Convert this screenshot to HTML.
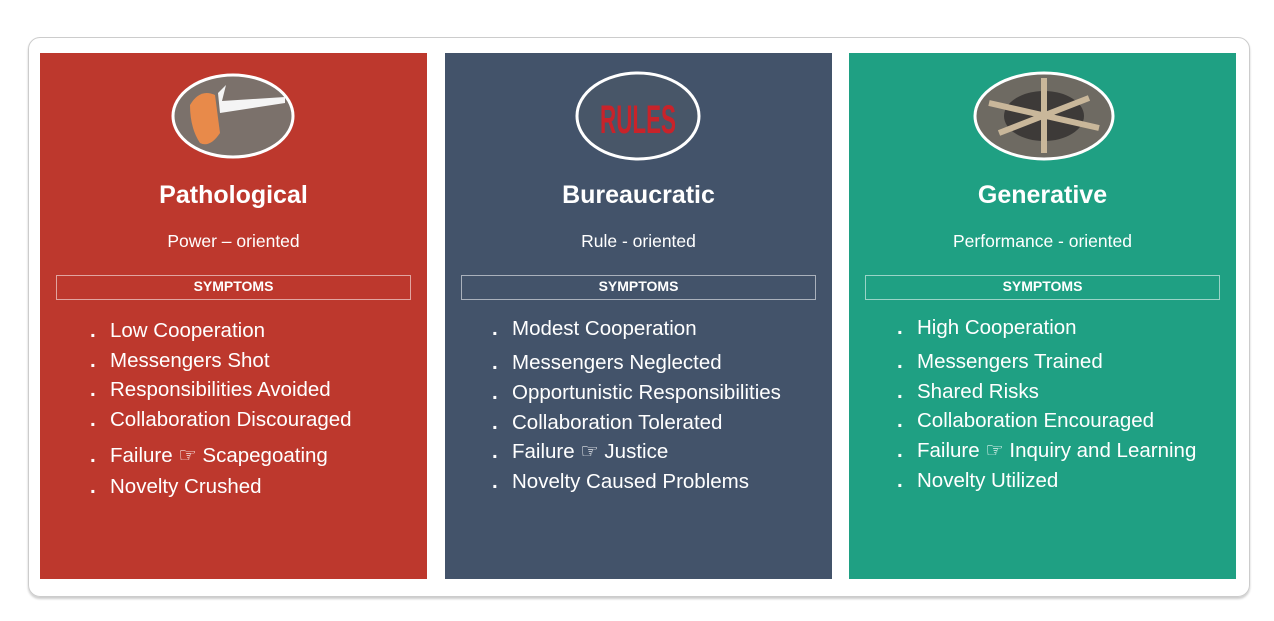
<!DOCTYPE html>
<html><head><style>
body{margin:0;width:1274px;height:621px;background:#fff;position:relative;overflow:hidden;font-family:"Liberation Sans","DejaVu Sans",sans-serif;color:#fff}
.outer{position:absolute;left:28px;top:37px;width:1220px;height:558px;border:1.5px solid #ccc;border-radius:12px;box-shadow:0 2px 2px #ccc}
.p{position:absolute;top:53px;width:387px;height:526px}
.t{position:absolute;left:0;width:100%;text-align:center}
.h{font-size:25px;font-weight:bold}
.s{font-size:17.5px}
.box{position:absolute;left:16px;right:16px;top:222px;height:23px;border:1px solid rgba(255,255,255,.55);text-align:center;font-size:14px;font-weight:bold;line-height:21px}
.li{position:absolute;font-size:20.5px;white-space:nowrap;line-height:24px}
.li b{position:absolute;left:-20px;font-weight:bold}
</style></head><body>
<div class="outer"></div>

<div class="p" style="left:40px;background:#bd382d">
<svg width="387" height="130" style="position:absolute;left:0;top:0">
<ellipse cx="193" cy="63" rx="60" ry="41" fill="#7b716b" stroke="#fff" stroke-width="3"/>
<path d="M150 52 Q160 35 175 42 L180 80 Q170 95 160 90 Q150 75 150 52Z" fill="#e88a4a"/>
<path d="M178 40 L180 60 L245 50 L245 44 L182 48 L186 32Z" fill="#f4f4f4"/>
</svg>
<div class="t h" style="top:128px">Pathological</div>
<div class="t s" style="top:178px">Power – oriented</div>
<div class="box">SYMPTOMS</div>
</div>

<div class="p" style="left:445px;background:#43536a">
<svg width="387" height="130" style="position:absolute;left:0;top:0">
<ellipse cx="193" cy="63" rx="61" ry="43" fill="#485668" stroke="#fff" stroke-width="3"/>
<text x="193" y="80" text-anchor="middle" font-family="Liberation Sans" font-weight="bold" font-size="40" fill="#c8232a" textLength="76" lengthAdjust="spacingAndGlyphs">RULES</text>
</svg>
<div class="t h" style="top:128px">Bureaucratic</div>
<div class="t s" style="top:178px">Rule - oriented</div>
<div class="box">SYMPTOMS</div>
</div>

<div class="p" style="left:849px;background:#1fa083">
<svg width="387" height="130" style="position:absolute;left:0;top:0">
<ellipse cx="195" cy="63" rx="69" ry="43" fill="#6e6a62" stroke="#fff" stroke-width="3"/>
<ellipse cx="195" cy="63" rx="40" ry="25" fill="#3d3a38"/>
<path d="M140 50 L250 75 M150 80 L240 45 M195 25 L195 100" stroke="#c9b79a" stroke-width="6"/>
</svg>
<div class="t h" style="top:128px">Generative</div>
<div class="t s" style="top:178px">Performance - oriented</div>
<div class="box">SYMPTOMS</div>
</div>

<div class="li" style="left:110px;top:319px"><b>.</b>Low Cooperation</div>
<div class="li" style="left:110px;top:349px"><b>.</b>Messengers Shot</div>
<div class="li" style="left:110px;top:378px"><b>.</b>Responsibilities Avoided</div>
<div class="li" style="left:110px;top:408px"><b>.</b>Collaboration Discouraged</div>
<div class="li" style="left:110px;top:444px"><b>.</b>Failure ☞ Scapegoating</div>
<div class="li" style="left:110px;top:475px"><b>.</b>Novelty Crushed</div>

<div class="li" style="left:512px;top:317px"><b>.</b>Modest Cooperation</div>
<div class="li" style="left:512px;top:351px"><b>.</b>Messengers Neglected</div>
<div class="li" style="left:512px;top:381px"><b>.</b>Opportunistic Responsibilities</div>
<div class="li" style="left:512px;top:411px"><b>.</b>Collaboration Tolerated</div>
<div class="li" style="left:512px;top:440px"><b>.</b>Failure ☞ Justice</div>
<div class="li" style="left:512px;top:470px"><b>.</b>Novelty Caused Problems</div>

<div class="li" style="left:917px;top:316px"><b>.</b>High Cooperation</div>
<div class="li" style="left:917px;top:350px"><b>.</b>Messengers Trained</div>
<div class="li" style="left:917px;top:380px"><b>.</b>Shared Risks</div>
<div class="li" style="left:917px;top:409px"><b>.</b>Collaboration Encouraged</div>
<div class="li" style="left:917px;top:439px"><b>.</b>Failure ☞ Inquiry and Learning</div>
<div class="li" style="left:917px;top:469px"><b>.</b>Novelty Utilized</div>
</body></html>
